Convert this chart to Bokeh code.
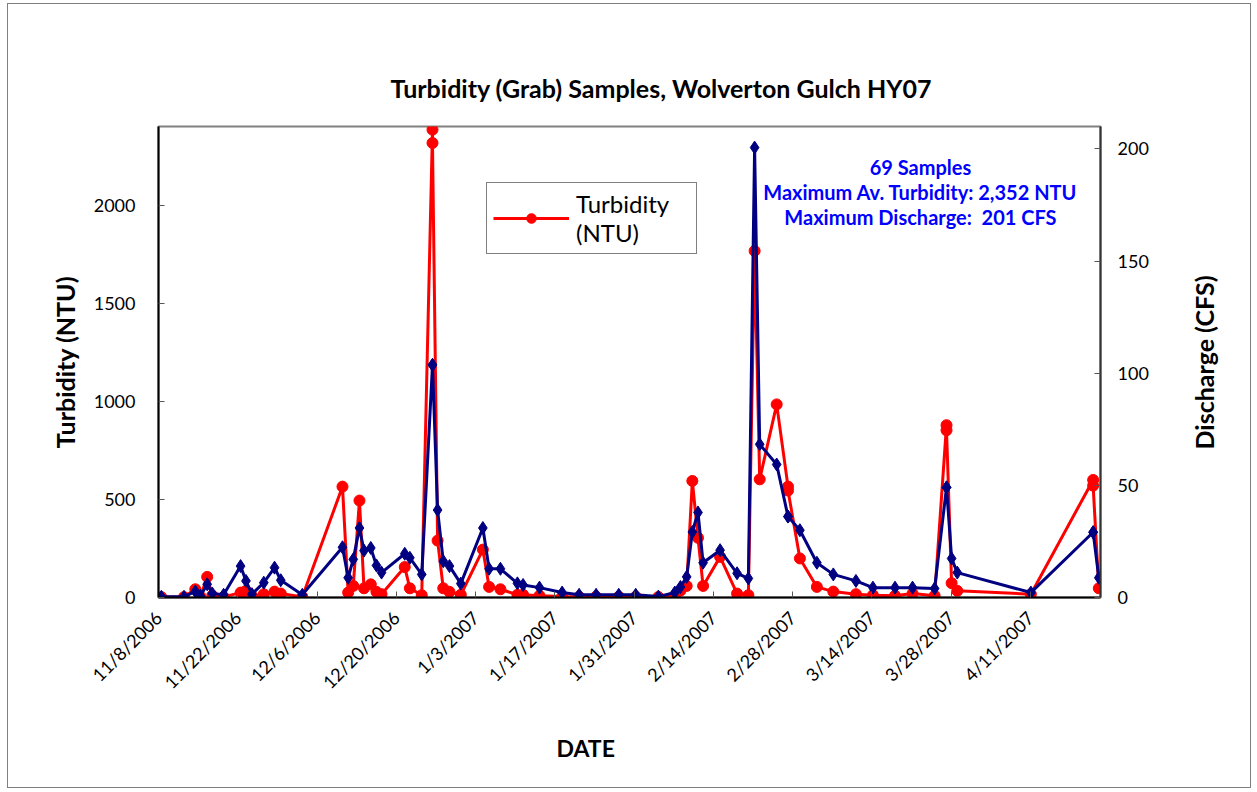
import math
import datetime as dt
from bokeh.plotting import figure
from bokeh.models import Range1d, LinearAxis, FixedTicker, Legend, LegendItem, Label, Title
from bokeh.embed import file_html
from bokeh.resources import INLINE

# ---------------- data ----------------
start_date = "11/8/2006"
date_tick_labels = ["11/8/2006", "11/22/2006", "12/6/2006", "12/20/2006", "1/3/2007",
                    "1/17/2007", "1/31/2007", "2/14/2007", "2/28/2007", "3/14/2007",
                    "3/28/2007", "4/11/2007"]

# sample time, days after 11/8/2006 00:00
sample_day = [0.5, 4.5, 6.5, 7.4, 8.6, 9.5, 11.5, 14.5, 15.45, 16.5, 18.6, 20.5, 21.6, 25.4,
              32.5, 33.5, 34.4, 35.5, 36.3, 37.5, 38.5, 39.4, 43.5, 44.4, 46.5, 48.4, 48.4,
              49.3, 50.3, 51.4, 53.4, 57.3, 58.4, 60.4, 63.4, 64.4, 67.3, 71.3, 74.3, 77.3,
              81.3, 84.3, 88.3, 91.2, 92.2, 93.3, 94.3, 95.3, 96.2, 99.2, 102.2, 104.2,
              105.3, 106.2, 109.2, 111.2, 111.2, 113.3, 116.3, 119.2, 123.2, 126.2, 130.1,
              133.2, 137.1, 139.2, 139.2, 140.1, 141.1, 154.1, 165.1, 165.1, 166.1]

turbidity_ntu = [2, 2, 42, 5, 105, 10, 3, 25, 34, 8, 17, 30, 20, 3,
                 565, 25, 59, 494, 47, 67, 29, 17, 155, 47, 12, 2384, 2316,
                 290, 47, 29, 14, 244, 54, 42, 14, 14, 9, 5, 4, 4,
                 4, 4, 3, 9, 35, 59, 594, 304, 59, 207, 20, 12,
                 1766, 602, 984, 565, 545, 199, 54, 30, 17, 12, 9,
                 20, 9, 878, 852, 73, 34, 17, 599, 570, 47]

discharge_cfs = [0.3, 0.3, 2.7, 0.7, 5.9, 1.8, 1.2, 14.0, 7.4, 1.5, 6.6, 13.3, 7.7, 1.2,
                 22.4, 8.8, 17.0, 31.0, 20.9, 22.1, 14.3, 11.1, 19.5, 17.7, 10.3, 103.7, 103.7,
                 39.0, 16.2, 14.0, 6.2, 31.0, 12.8, 12.8, 6.3, 5.6, 4.4, 2.2, 1.2, 1.2,
                 1.2, 1.2, 0.4, 2.2, 4.7, 9.2, 29.2, 37.9, 15.5, 21.1, 10.8, 8.5,
                 200.6, 68.3, 59.3, 36.1, 36.1, 30.0, 15.5, 10.3, 7.4, 4.4, 4.4,
                 4.4, 4.0, 49.1, 49.1, 17.4, 11.1, 2.2, 29.1, 29.1, 8.8]

turbidity_ticks = [0, 500, 1000, 1500, 2000]
discharge_ticks = [0, 50, 100, 150, 200]

title_text = "Turbidity (Grab) Samples, Wolverton Gulch HY07"
right_label = "Discharge (CFS)"
note_lines = ["69 Samples", "Maximum Av. Turbidity: 2,352 NTU",
              "Maximum Discharge:\u00a0 201 CFS"]

# ---------------- derived ----------------
def parse(s):
    m, d, y = (int(v) for v in s.split("/"))
    return dt.date(y, m, d)

d0 = parse(start_date)
tick_days = [(parse(s) - d0).days for s in date_tick_labels]

FONT = "Lato"
RED = "#FF0000"
NAVY = "#000080"

p = figure(width=1244, height=785, output_backend="svg", toolbar_location=None,
           x_range=Range1d(0, 166.4), y_range=Range1d(0, 2400),
           min_border_left=150, min_border_right=152, min_border_top=122,
           min_border_bottom=189)
p.extra_y_ranges = {"q": Range1d(0, 210)}
p.xgrid.visible = False
p.ygrid.visible = False
p.outline_line_color = "#808080"
p.outline_line_width = 2
p.background_fill_color = "white"
p.border_fill_color = "white"
p.styles = {"border": "1px solid #7f7f7f", "margin-left": "7px", "margin-top": "3px"}

p.title.text = title_text
p.title.text_font = FONT
p.title.text_font_style = "bold"
p.title.text_font_size = "25px"
p.title.text_color = "black"
p.title.align = "left"
p.title.offset = 232
p.title.standoff = 47

# lines and markers
r_tl = p.line(sample_day, turbidity_ntu, line_color=RED, line_width=3)
r_tm = p.scatter(sample_day, turbidity_ntu, marker="circle", size=11,
                 fill_color=RED, line_color=RED)
p.line(sample_day, discharge_cfs, y_range_name="q", line_color=NAVY, line_width=3)
p.scatter(sample_day, discharge_cfs, y_range_name="q", marker="diamond", size=13,
          fill_color=NAVY, line_color=NAVY)

# left axis
ya = p.yaxis[0]
ya.ticker = FixedTicker(ticks=turbidity_ticks)
ya.axis_label = "Turbidity (NTU)"
ya.axis_label_text_font = FONT
ya.axis_label_text_font_style = "bold"
ya.axis_label_text_font_size = "25px"
ya.axis_label_text_color = "black"
ya.axis_label_standoff = 11
ya.major_label_text_font = FONT
ya.major_label_text_font_size = "18px"
ya.major_label_text_color = "black"
ya.major_label_standoff = 23
ya.major_tick_in = 6
ya.major_tick_out = 0
ya.minor_tick_line_color = None
ya.axis_line_color = "black"
ya.axis_line_width = 2
ya.major_tick_line_color = "#555555"

# right axis (ticks and numbers)
ra = LinearAxis(y_range_name="q", ticker=FixedTicker(ticks=discharge_ticks))
ra.major_label_text_font = FONT
ra.major_label_text_font_size = "18px"
ra.major_label_text_color = "black"
ra.major_label_standoff = 17
ra.major_tick_in = 6
ra.major_tick_out = 0
ra.minor_tick_line_color = None
ra.axis_line_color = "#333333"
ra.axis_line_width = 2
ra.major_tick_line_color = "#555555"
p.add_layout(ra, "right")

# right axis title, reading bottom-to-top: a bare axis whose single label
# starts at the lower end of the title's span
title_start_cfs = 66
rt = LinearAxis(y_range_name="q", ticker=FixedTicker(ticks=[title_start_cfs]))
rt.major_label_overrides = {title_start_cfs: right_label}
rt.major_label_orientation = math.pi / 2
rt.major_label_text_font = FONT
rt.major_label_text_font_style = "bold"
rt.major_label_text_font_size = "25px"
rt.major_label_text_color = "black"
rt.major_label_standoff = 47
rt.axis_line_color = None
rt.major_tick_line_color = None
rt.minor_tick_line_color = None
p.add_layout(rt, "right")

# bottom axis
xa = p.xaxis[0]
xa.ticker = FixedTicker(ticks=tick_days)
xa.major_label_overrides = {d: s for d, s in zip(tick_days, date_tick_labels)}
xa.major_label_orientation = math.pi / 4
xa.major_label_text_font = FONT
xa.major_label_text_font_size = "18px"
xa.major_label_text_color = "black"
xa.major_label_standoff = 17
xa.major_tick_in = 6
xa.major_tick_out = 0
xa.minor_tick_line_color = None
xa.axis_line_color = "black"
xa.axis_line_width = 2
xa.major_tick_line_color = "#555555"

p.add_layout(Title(text="DATE", align="left", offset=398, standoff=56,
                   text_font=FONT, text_font_style="bold", text_font_size="23px",
                   text_color="black"), "below")

# annotation text
for i, line in enumerate(note_lines):
    p.add_layout(Label(x=134.6, y=2192 - i * 127, text=line, text_align="center",
                       text_baseline="middle", text_color="#0000FF",
                       text_font=FONT, text_font_style="bold",
                       text_font_size="20px"))

legend = Legend(items=[LegendItem(label="Turbidity\n(NTU)", renderers=[r_tl, r_tm])],
                location=(328, 343))
legend.label_text_font = FONT
legend.label_text_font_size = "24px"
legend.label_text_color = "black"
legend.label_text_line_height = 1.1
legend.label_width = 114
legend.glyph_width = 76
legend.glyph_height = 24
legend.padding = 6
legend.margin = 0
legend.border_line_color = "black"
legend.border_line_width = 1
legend.background_fill_color = "white"
legend.label_standoff = 7
p.add_layout(legend)

open("out.html", "w").write(file_html(p, INLINE))
